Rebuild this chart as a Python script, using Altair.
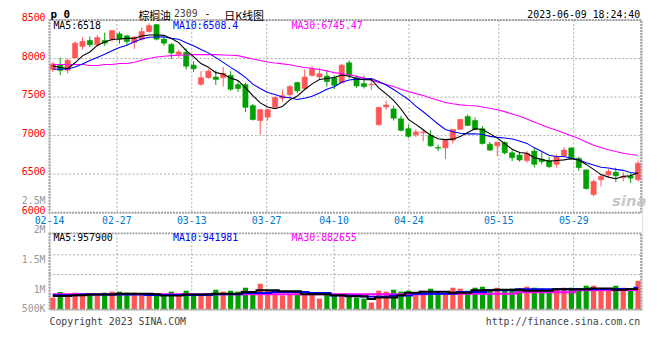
import altair as alt
import pandas as pd

# ---------------- data ----------------
tick_labels = ["02-14", "02-27", "03-13", "03-27", "04-10", "04-24", "05-15", "05-29"]
tick_index = [0, 9, 19, 29, 38, 48, 60, 70]
main_vgrid_index = [9, 19, 29, 48, 60, 70]
vol_vgrid_index = [9, 19, 29, 38, 48, 60, 70]
price_grid = [8000, 7500, 7000, 6500]
price_ticks = [8500, 8000, 7500, 7000, 6500, 6000]
vol_tick_labels = ["2.5M", "2M", "1.5M", "1M", "500K"]
vol_tick_values = [2500000, 2000000, 1500000, 1000000, 666667]
vol_grid = [1588000, 1255000, 925000]
vol_base = 666667

opens = [7859, 7914, 7850, 8008, 8158, 8235, 8179, 8235, 8252, 8320,
         8294, 8209, 8252, 8350, 8440, 8252, 8183, 8055, 8081, 7914,
         7666, 7752, 7760, 7752, 7782, 7662, 7662, 7389, 7196, 7239,
         7367, 7487, 7530, 7688, 7611, 7782, 7760, 7773, 7752, 7688,
         7944, 7752, 7675, 7658, 7141, 7371, 7346, 7218, 7089, 7012,
         7038, 7004, 6846, 6841, 6940, 7081, 7247, 7196, 7089, 6888,
         6867, 6910, 6777, 6748, 6675, 6799, 6696, 6675, 6628, 6739,
         6841, 6705, 6555, 6235, 6427, 6491, 6525, 6453, 6474, 6427]
highs = [7953, 8012, 7999, 8222, 8273, 8286, 8307, 8337, 8371, 8350,
         8307, 8294, 8406, 8457, 8448, 8277, 8200, 8115, 8132, 7965,
         7837, 7867, 7846, 7888, 7837, 7713, 7688, 7410, 7346, 7346,
         7508, 7594, 7658, 7701, 7859, 7901, 7880, 7850, 7782, 7931,
         7974, 7782, 7782, 7709, 7367, 7453, 7389, 7261, 7141, 7081,
         7081, 7068, 6884, 6940, 7081, 7218, 7273, 7235, 7119, 6918,
         6914, 6927, 6812, 6790, 6799, 6833, 6782, 6726, 6756, 6850,
         6841, 6726, 6555, 6427, 6500, 6568, 6585, 6525, 6513, 6675]
lows = [7824, 7786, 7807, 8008, 8115, 8149, 8158, 8166, 8222, 8192,
        8179, 8124, 8235, 8337, 8235, 8166, 7995, 8008, 7859, 7825,
        7645, 7739, 7658, 7636, 7581, 7568, 7303, 7196, 7017, 7196,
        7354, 7440, 7474, 7551, 7594, 7765, 7722, 7636, 7602, 7688,
        7739, 7619, 7611, 7594, 7132, 7337, 7196, 7055, 6970, 6982,
        6927, 6854, 6799, 6696, 6897, 7081, 7124, 7068, 6884, 6799,
        6735, 6756, 6671, 6662, 6649, 6585, 6628, 6577, 6585, 6726,
        6696, 6542, 6299, 6213, 6341, 6457, 6397, 6406, 6384, 6406]
closes = [7931, 7846, 7978, 8200, 8222, 8179, 8273, 8200, 8363, 8252,
          8222, 8277, 8350, 8427, 8252, 8200, 8072, 8085, 7901, 7867,
          7752, 7837, 7730, 7807, 7602, 7611, 7367, 7209, 7337, 7337,
          7495, 7517, 7636, 7581, 7760, 7859, 7803, 7701, 7653, 7914,
          7782, 7645, 7636, 7666, 7367, 7397, 7226, 7068, 6991, 7047,
          7047, 6867, 6837, 6940, 7081, 7209, 7132, 7081, 6897, 6812,
          6914, 6777, 6713, 6683, 6769, 6628, 6662, 6598, 6726, 6812,
          6696, 6585, 6312, 6406, 6470, 6534, 6478, 6466, 6448, 6640]
ma5 = [7905, 7885, 7870, 7945, 8035, 8085, 8170, 8215, 8247, 8253,
       8262, 8263, 8293, 8306, 8306, 8301, 8260, 8207, 8102, 8025,
       7935, 7888, 7817, 7799, 7746, 7717, 7623, 7519, 7425, 7372,
       7349, 7379, 7464, 7513, 7598, 7671, 7728, 7741, 7755, 7786,
       7771, 7739, 7726, 7729, 7619, 7542, 7458, 7345, 7210, 7146,
       7076, 7004, 6958, 6948, 6954, 6987, 7040, 7089, 7080, 7026,
       6967, 6896, 6823, 6780, 6771, 6714, 6691, 6668, 6677, 6685,
       6699, 6683, 6626, 6562, 6494, 6461, 6440, 6471, 6479, 6518]
ma10 = [7865, 7862, 7865, 7890, 7930, 7975, 8015, 8055, 8100, 8144,
        8174, 8217, 8254, 8277, 8280, 8282, 8262, 8250, 8204, 8165,
        8118, 8074, 8012, 7950, 7885, 7826, 7756, 7668, 7612, 7559,
        7533, 7501, 7492, 7469, 7485, 7510, 7553, 7603, 7634, 7692,
        7721, 7733, 7733, 7742, 7703, 7656, 7599, 7535, 7469, 7383,
        7309, 7231, 7151, 7079, 7050, 7031, 7022, 7023, 7014, 6990,
        6977, 6968, 6956, 6930, 6899, 6841, 6794, 6745, 6728, 6728,
        6706, 6687, 6647, 6619, 6590, 6580, 6562, 6549, 6521, 6508]
ma30 = [7923, 7923, 7923, 7923, 7923, 7910, 7910, 7923, 7923, 7935,
        7935, 7953, 7978, 8000, 8021, 8030, 8038, 8042, 8047, 8051,
        8051, 8051, 8051, 8047, 8042, 8038, 8015, 7995, 7975, 7956,
        7942, 7931, 7919, 7899, 7883, 7873, 7857, 7840, 7817, 7805,
        7791, 7769, 7746, 7720, 7691, 7664, 7636, 7602, 7572, 7545,
        7521, 7488, 7459, 7430, 7413, 7399, 7391, 7387, 7372, 7355,
        7336, 7311, 7280, 7250, 7217, 7176, 7138, 7101, 7070, 7034,
        6997, 6962, 6918, 6876, 6846, 6817, 6793, 6772, 6754, 6745]
volumes = [867000, 961000, 906000, 950000, 906000, 917000, 917000, 950000, 967000, 967000,
           950000, 950000, 917000, 917000, 917000, 906000, 967000, 906000, 983000, 917000,
           933000, 906000, 1000000, 967000, 983000, 967000, 1033000, 967000, 1100000, 989000,
           956000, 906000, 933000, 950000, 917000, 917000, 850000, 911000, 917000, 917000,
           917000, 867000, 850000, 783000, 983000, 967000, 1000000, 967000, 983000, 917000,
           983000, 1017000, 967000, 933000, 1033000, 1017000, 983000, 1033000, 1050000, 983000,
           1033000, 983000, 1017000, 1017000, 1050000, 1033000, 1017000, 1000000, 1000000, 1033000,
           1033000, 1017000, 1067000, 1067000, 1017000, 1017000, 1067000, 1033000, 1000000, 1150000]
vma5 = [894000, 894000, 894000, 906000, 906000, 917000, 917000, 917000, 917000, 933000,
        933000, 933000, 933000, 933000, 922000, 900000, 900000, 900000, 917000, 917000,
        917000, 922000, 933000, 933000, 933000, 933000, 961000, 961000, 989000, 989000,
        989000, 972000, 972000, 972000, 922000, 922000, 922000, 922000, 906000, 906000,
        889000, 889000, 889000, 844000, 867000, 867000, 867000, 906000, 950000, 950000,
        967000, 967000, 967000, 967000, 950000, 950000, 950000, 989000, 989000, 989000,
        1000000, 1000000, 1000000, 1000000, 983000, 983000, 983000, 983000, 1006000, 1006000,
        1006000, 1006000, 1006000, 1022000, 1022000, 1022000, 1000000, 1000000, 1011000, 1011000]
vma10 = [906000, 906000, 906000, 906000, 917000, 917000, 917000, 917000, 917000, 917000,
         917000, 917000, 917000, 911000, 911000, 911000, 911000, 911000, 911000, 911000,
         911000, 911000, 922000, 922000, 922000, 922000, 944000, 944000, 944000, 944000,
         961000, 961000, 961000, 961000, 961000, 944000, 944000, 944000, 900000, 900000,
         900000, 900000, 883000, 883000, 883000, 883000, 900000, 900000, 900000, 933000,
         933000, 933000, 933000, 933000, 933000, 961000, 961000, 961000, 961000, 989000,
         989000, 989000, 989000, 1006000, 1006000, 1006000, 1006000, 1006000, 1006000, 1006000,
         1006000, 1006000, 1006000, 1006000, 1011000, 1011000, 1011000, 1011000, 1011000, 1033000]
vma30 = [922000, 922000, 922000, 922000, 922000, 922000, 922000, 922000, 922000, 922000,
         922000, 922000, 922000, 922000, 922000, 922000, 922000, 922000, 922000, 922000,
         922000, 922000, 922000, 922000, 922000, 922000, 922000, 922000, 922000, 922000,
         922000, 922000, 922000, 922000, 922000, 922000, 922000, 922000, 922000, 922000,
         922000, 922000, 922000, 922000, 922000, 922000, 922000, 922000, 922000, 922000,
         922000, 933000, 933000, 933000, 933000, 933000, 933000, 933000, 933000, 933000,
         933000, 933000, 933000, 956000, 956000, 956000, 956000, 956000, 956000, 956000,
         956000, 989000, 989000, 989000, 989000, 989000, 989000, 989000, 989000, 989000]

# ---------------- build table ----------------
idx = list(range(len(closes)))
cdf = pd.DataFrame({"i": idx, "o": opens, "h": highs, "l": lows, "c": closes,
                    "v": volumes, "ma5": ma5, "ma10": ma10, "ma30": ma30,
                    "vma5": vma5, "vma10": vma10, "vma30": vma30})
cdf["dir"] = ["up" if c >= o else "down" for o, c in zip(opens, closes)]
cdf["xl"] = cdf["i"] + 0.1
cdf["xr"] = cdf["i"] + 0.8
cdf["xc"] = cdf["i"] + 0.45

RED = "#ff5555"
GREEN = "#00a000"
GRID = "#aaaaaa"
FRAME = "#a0a0a0"
MONO = "DejaVu Sans Mono"
CJK = "Noto Sans CJK SC"

XC = alt.Scale(domain=[0, 80], range=[0, 600], nice=False, zero=False)
XG = alt.Scale(domain=[0, 79], range=[0, 599], nice=False, zero=False)
YP = alt.Scale(domain=[6000, 8500], range=[195, 0], nice=False, zero=False)
YV = alt.Scale(domain=[0, 2500000], range=[333, 183], nice=False, zero=False)
DIRS = alt.Scale(domain=["up", "down"], range=[RED, GREEN])


def xq(field, scale=XC):
    return alt.X(field, type="quantitative", scale=scale, axis=None)


def yq(field, scale):
    return alt.Y(field, type="quantitative", scale=scale, axis=None)


base = alt.Chart(cdf)
one = alt.Chart(pd.DataFrame({"k": [0]}))


def txt(s, x, y, color="#000000", size=10, align="left", font=MONO, weight="normal",
        baseline="middle", **kw):
    return one.mark_text(text=s, align=align, baseline=baseline, font=font, fontSize=size,
                         color=color, fontWeight=weight, **kw).encode(x=alt.value(x), y=alt.value(y))


layers = []

# grids
layers.append(alt.Chart(pd.DataFrame({"p": price_grid})).mark_rule(color=GRID, strokeDash=[2, 2]).encode(
    y=yq("p", YP), x=alt.value(0), x2=alt.value(599)))
layers.append(alt.Chart(pd.DataFrame({"g": main_vgrid_index})).mark_rule(color=GRID, strokeDash=[2, 2]).encode(
    x=xq("g", XG), y=alt.value(0), y2=alt.value(195)))
layers.append(alt.Chart(pd.DataFrame({"g": vol_vgrid_index})).mark_rule(color=GRID, strokeDash=[2, 2]).encode(
    x=xq("g", XG), y=alt.value(216), y2=alt.value(293)))
layers.append(alt.Chart(pd.DataFrame({"v": vol_grid})).mark_rule(color=GRID, strokeDash=[2, 2]).encode(
    y=yq("v", YV), x=alt.value(0), x2=alt.value(599)))

# candles
layers.append(base.mark_rule(strokeWidth=1).encode(
    x=xq("xc"), y=yq("l", YP), y2="h:Q", color=alt.Color("dir:N", scale=DIRS, legend=None)))
layers.append(base.mark_rect(strokeWidth=0.6).encode(
    x=xq("xl"), x2="xr:Q", y=yq("o", YP), y2="c:Q",
    fill=alt.Fill("dir:N", scale=DIRS, legend=None),
    stroke=alt.Stroke("dir:N", scale=DIRS, legend=None)))

# moving averages
layers.append(base.mark_line(color="#ff00ff", strokeWidth=1.1).encode(x=xq("xc"), y=yq("ma30", YP)))
layers.append(base.mark_line(color="#0000ff", strokeWidth=1.1).encode(x=xq("xc"), y=yq("ma10", YP)))
layers.append(base.mark_line(color="#000000", strokeWidth=1.1).encode(x=xq("xc"), y=yq("ma5", YP)))

# volume
layers.append(base.mark_rect().encode(
    x=xq("xl"), x2="xr:Q", y=yq("v", YV), y2=alt.datum(vol_base),
    fill=alt.Fill("dir:N", scale=DIRS, legend=None)))
layers.append(base.mark_line(color="#ff00ff", strokeWidth=2, interpolate="step").encode(x=xq("xc"), y=yq("vma30", YV)))
layers.append(base.mark_line(color="#0000ff", strokeWidth=2, interpolate="step").encode(x=xq("xc"), y=yq("vma10", YV)))
layers.append(base.mark_line(color="#000000", strokeWidth=2, interpolate="step").encode(x=xq("xc"), y=yq("vma5", YV)))

# frames
layers.append(one.mark_rect(fillOpacity=0, stroke=FRAME, strokeWidth=2, strokeDash=[2, 1]).encode(
    x=alt.value(0), x2=alt.value(599), y=alt.value(0), y2=alt.value(195)))
layers.append(one.mark_rect(fillOpacity=0, stroke=FRAME, strokeWidth=2, strokeDash=[2, 1]).encode(
    x=alt.value(0), x2=alt.value(599), y=alt.value(216), y2=alt.value(293)))

# axis labels
layers.append(alt.Chart(pd.DataFrame({"p": price_ticks, "t": [str(p) for p in price_ticks]})).mark_text(
    align="right", baseline="middle", font=MONO, fontSize=10, color="#ff0000", dy=-2).encode(
    y=yq("p", YP), x=alt.value(-4), text="t:N"))
layers.append(alt.Chart(pd.DataFrame({"v": vol_tick_values, "t": vol_tick_labels})).mark_text(
    align="right", baseline="middle", font=MONO, fontSize=10, color="#999999", dy=0).encode(
    y=yq("v", YV), x=alt.value(-4), text="t:N"))
layers.append(alt.Chart(pd.DataFrame({"g": tick_index, "t": tick_labels})).mark_text(
    align="center", baseline="middle", font=MONO, fontSize=10, color="#0077cc").encode(
    x=xq("g", XG), y=alt.value(203), text="t:N"))

# header / legends / footer texts
layers += [
    txt("p 0", 1, -2.5, size=11, weight="bold", baseline="alphabetic"),
    txt("棕榈油", 90, -0.3, size=11, font=CJK, baseline="alphabetic"),
    txt("2309", 126, -3, color="#444444", size=10, baseline="alphabetic"),
    txt("-", 160, -3, size=10, align="center", baseline="alphabetic"),
    txt("日K线图", 177, -0.3, size=11, font=CJK, baseline="alphabetic"),
    txt("2023-06-09 18:24:40", 598, -2.3, align="right", baseline="alphabetic"),
    txt("MA5:6518", 4, 6),
    txt("MA10:6508.4", 125, 6, color="#0000ff"),
    txt("MA30:6745.47", 245, 6, color="#ff00ff"),
    txt("MA5:957900", 4, 221),
    txt("MA10:941981", 125, 221, color="#0000ff"),
    txt("MA30:882655", 245, 221, color="#ff00ff"),
    txt("Copyright 2023 SINA.COM", 0, 306, color="#444444"),
    txt("http://finance.sina.com.cn", 598, 306, color="#444444", align="right"),
    txt("sina", 587, 183, color="#c8c8c8", size=15, align="center", font="DejaVu Sans",
        weight="bold", fontStyle="italic"),
]

chart = alt.layer(*layers).resolve_scale(
    x="independent", y="independent", color="independent", fill="independent", stroke="independent"
).properties(
    width=600, height=293,
    autosize=alt.AutoSizeParams(type="none"),
    padding={"left": 42, "top": 10, "right": 10, "bottom": 49},
).configure_view(stroke=None).configure(background="#ffffff")

chart.save("out.html", embed_options={"renderer": "svg", "actions": False})
